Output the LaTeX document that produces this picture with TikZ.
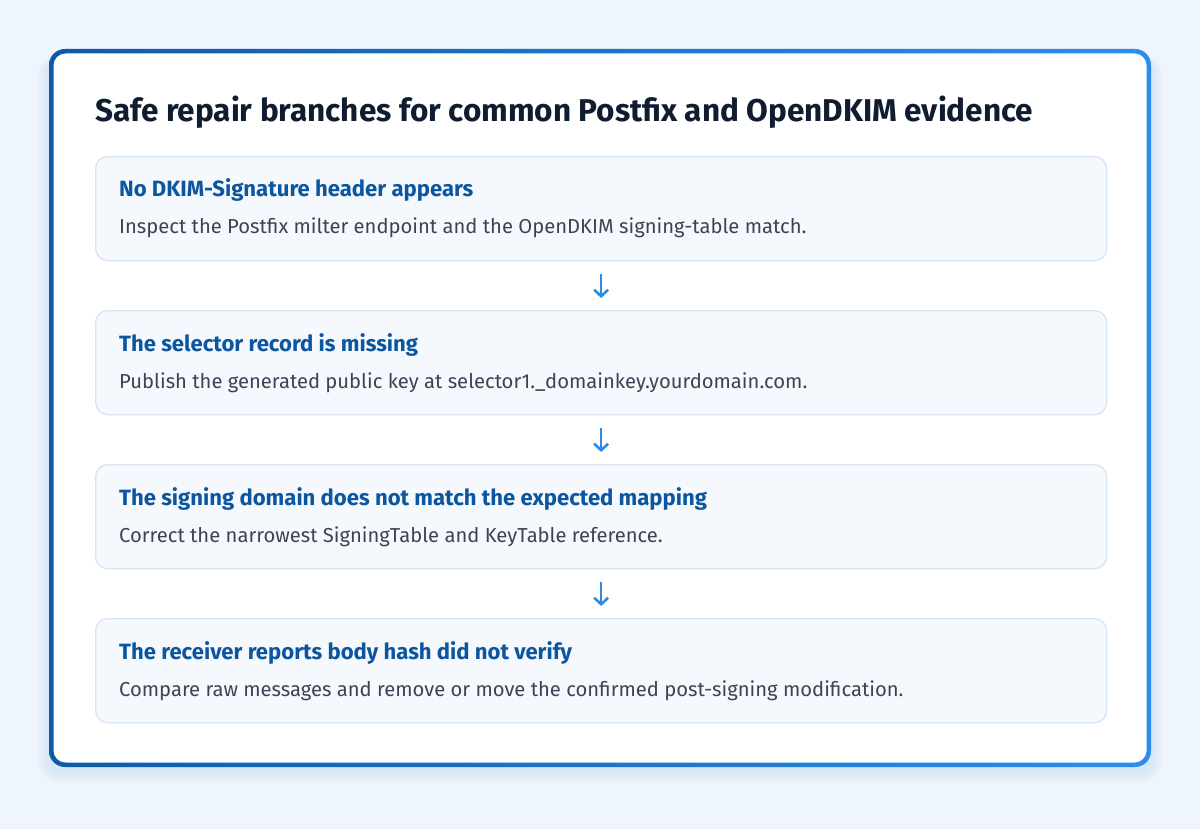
\documentclass[tikz,border=0pt]{standalone}
\usepackage{fontspec}
\setmainfont{Fira Sans}
\usetikzlibrary{arrows.meta}
\definecolor{pagebg}{RGB}{238,245,252}
\definecolor{framel}{RGB}{14,90,168}
\definecolor{framer}{RGB}{44,142,236}
\definecolor{boxfill}{RGB}{245,249,253}
\definecolor{boxline}{RGB}{214,228,243}
\definecolor{headblue}{RGB}{12,86,160}
\definecolor{titleink}{RGB}{16,28,48}
\definecolor{bodyink}{RGB}{58,68,84}
\definecolor{arrowblue}{RGB}{45,139,230}
\definecolor{glow}{RGB}{200,222,245}
\begin{document}
\begin{tikzpicture}[x=1pt, y=-1pt,
  stepbox/.style={draw=boxline, line width=1.3pt, fill=boxfill, rounded corners=12pt,
    minimum width=1011pt, minimum height=104pt, inner sep=0pt, anchor=north west},
  head/.style={anchor=base west, inner sep=0pt, text=headblue, font=\fontsize{22.1}{26}\selectfont\bfseries},
  body/.style={anchor=base west, inner sep=0pt, text=bodyink, font=\fontsize{20.2}{24}\selectfont},
  flow/.style={draw=arrowblue, line width=2.6pt, -{Straight Barb[length=6.5pt, width=14pt, line width=2.6pt]},
    shorten <=13pt, shorten >=12pt}]

% Drawing page and card
\useasboundingbox (0,0) rectangle (1200,829);
\fill[pagebg] (0,0) rectangle (1200,829);
\foreach \i in {1,...,12}
  \fill[glow, opacity=0.06, rounded corners=18pt] (50-\i,56) rectangle (1150+\i,770+\i);
\shade[left color=framel, right color=framer, rounded corners=16pt] (49,49) rectangle (1151,767);
\fill[white, rounded corners=12pt] (53.5,53.5) rectangle (1146.5,762.5);

% Drawing title
\node[anchor=base west, inner sep=0pt, text=titleink, font=\fontsize{31.5}{36}\selectfont\bfseries] (title) at (95,122)
  {Safe repair branches for common Postfix and OpenDKIM evidence};

% Drawing branch boxes
\node[stepbox] (b1) at (95,156) {};
\node[stepbox] (b2) at (95,310) {};
\node[stepbox] (b3) at (95,464) {};
\node[stepbox] (b4) at (95,618) {};

% Drawing box texts
\node[head] (h1) at ([xshift=24pt, yshift=-41pt]b1.north west) {No DKIM-Signature header appears};
\node[body] (t1) at ([xshift=24pt, yshift=-78pt]b1.north west) {Inspect the Postfix milter endpoint and the OpenDKIM signing-table match.};
\node[head] (h2) at ([xshift=24pt, yshift=-41pt]b2.north west) {The selector record is missing};
\node[body] (t2) at ([xshift=24pt, yshift=-78pt]b2.north west) {Publish the generated public key at selector1.\_domainkey.yourdomain.com.};
\node[head] (h3) at ([xshift=24pt, yshift=-41pt]b3.north west) {The signing domain does not match the expected mapping};
\node[body] (t3) at ([xshift=24pt, yshift=-78pt]b3.north west) {Correct the narrowest SigningTable and KeyTable reference.};
\node[head] (h4) at ([xshift=24pt, yshift=-41pt]b4.north west) {The receiver reports body hash did not verify};
\node[body] (t4) at ([xshift=24pt, yshift=-78pt]b4.north west) {Compare raw messages and remove or move the confirmed post-signing modification.};

% Drawing arrows
\draw[flow] (b1.south) -- (b2.north);
\draw[flow] (b2.south) -- (b3.north);
\draw[flow] (b3.south) -- (b4.north);

\end{tikzpicture}
\end{document}
